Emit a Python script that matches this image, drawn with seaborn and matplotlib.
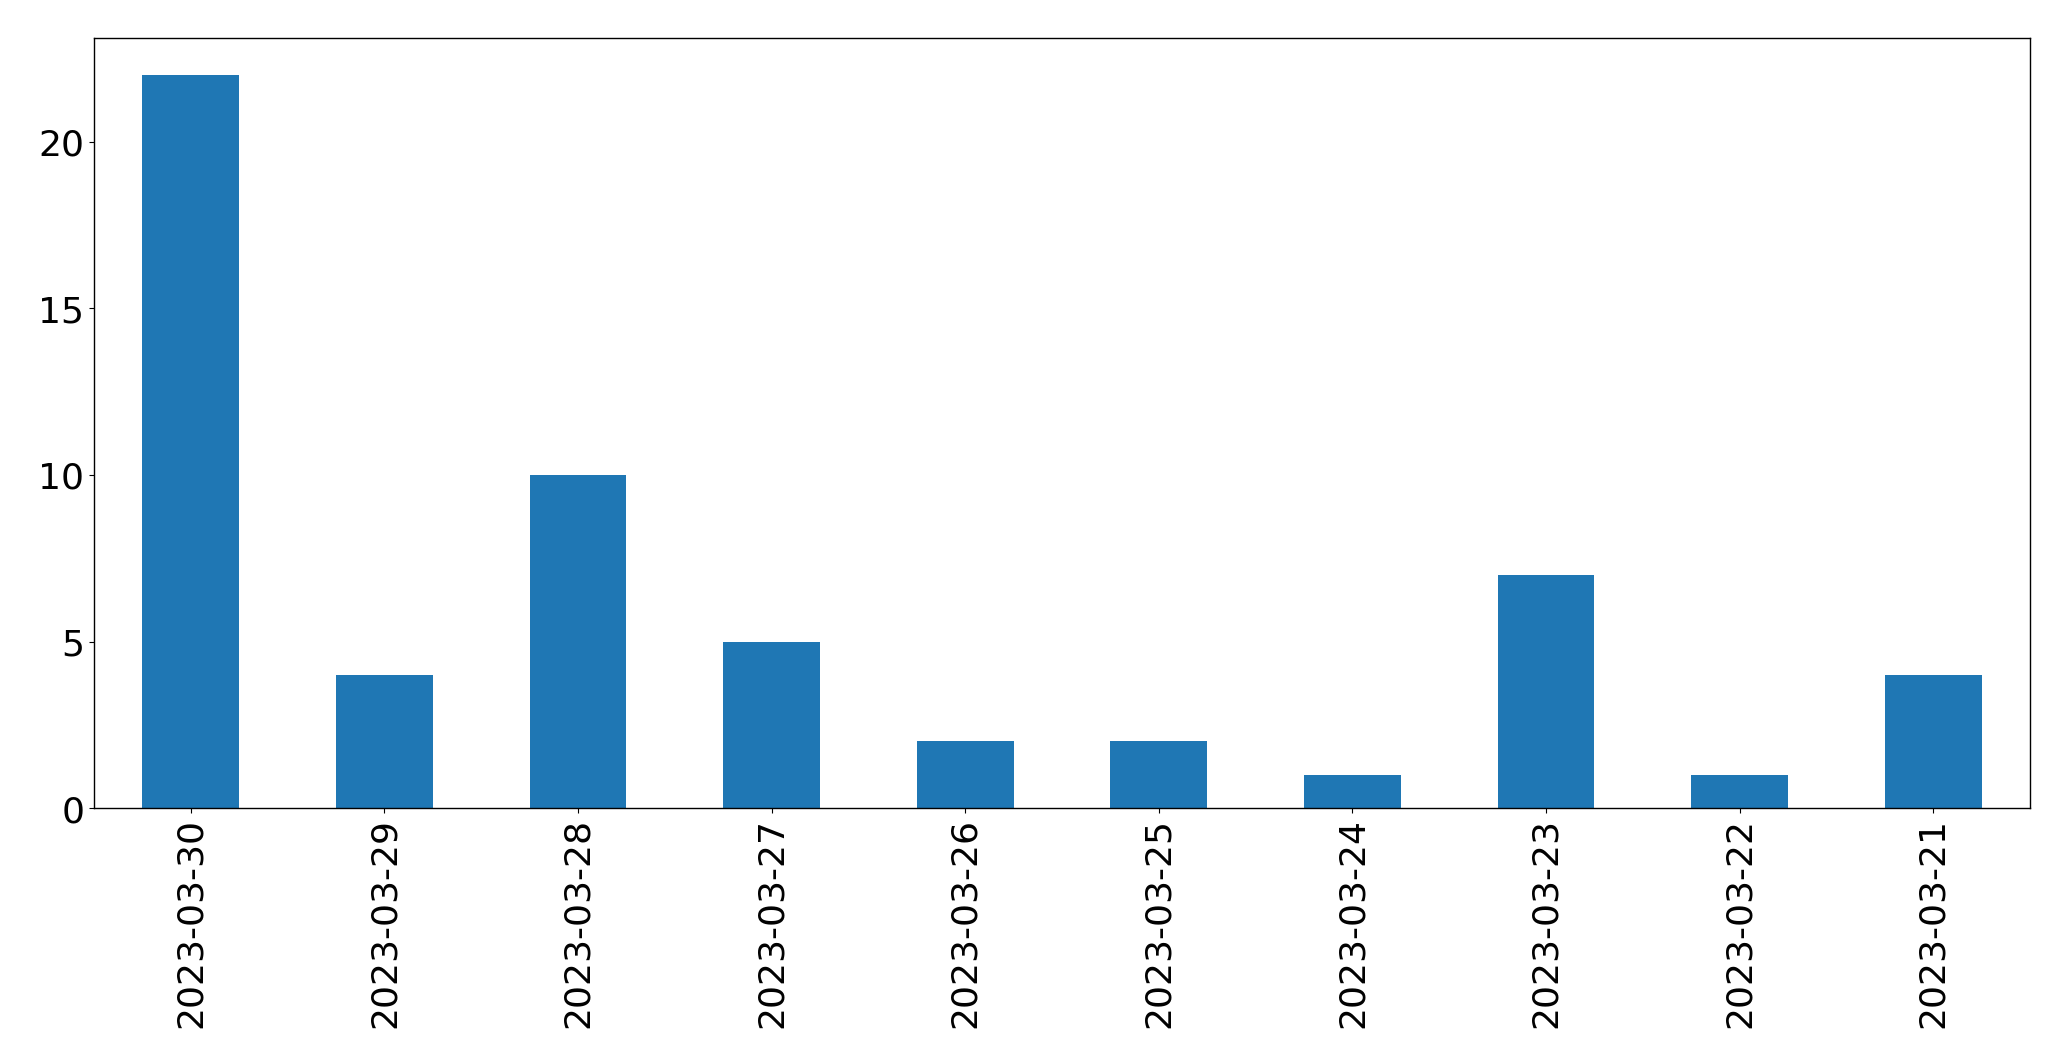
import matplotlib
matplotlib.use("Agg")
import matplotlib.pyplot as plt
import seaborn as sns
import pandas as pd

dates = ["2023-03-30", "2023-03-29", "2023-03-28", "2023-03-27", "2023-03-26",
         "2023-03-25", "2023-03-24", "2023-03-23", "2023-03-22", "2023-03-21"]
counts = [22, 4, 10, 5, 2, 2, 1, 7, 1, 4]

df = pd.DataFrame({"date": dates, "count": counts})

fig, ax = plt.subplots(figsize=(20.71, 10.605), dpi=100)
fig.subplots_adjust(left=94/2071, right=2030/2071, top=1-39/1061, bottom=1-809/1061)

sns.barplot(data=df, x="date", y="count", order=dates, color="#1f77b4",
            saturation=1, width=0.5, linewidth=0, ax=ax)
ax.set_xlim(-0.5, len(dates) - 0.5)
ax.set_ylim(0, max(counts) * 1.05)
ax.set_xlabel("")
ax.set_ylabel("")
ax.tick_params(axis="both", labelsize=26, length=3.5)
plt.setp(ax.get_xticklabels(), rotation=90)
for s in ax.spines.values():
    s.set_linewidth(1.0)

fig.savefig("out.png", dpi=100)
